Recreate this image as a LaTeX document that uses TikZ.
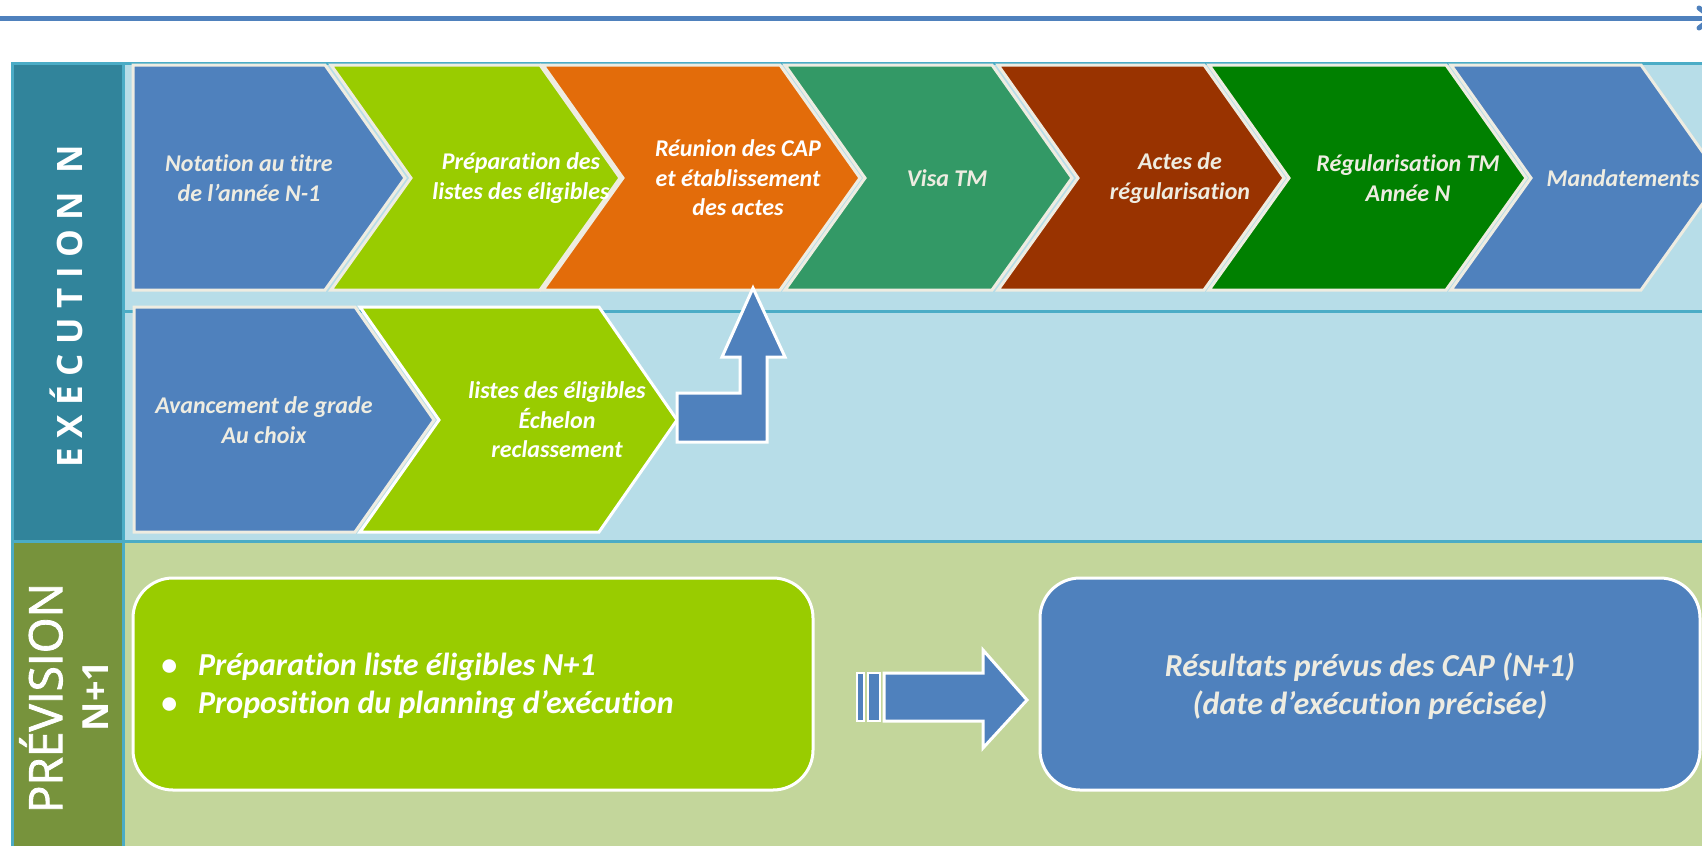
\documentclass[tikz,border=0pt]{standalone}
\usepackage{fontspec}
\setmainfont{Carlito}[Ligatures={NoCommon}]
\newfontfamily\sidefont{Open Sans}
\newfontfamily\prevfont{Open Sans}[FakeBold=1.8]
\newfontfamily\execfont{Open Sans}[LetterSpace=27]
\definecolor{cblue}{HTML}{4F81BD}
\definecolor{lgreen}{HTML}{99CC00}
\definecolor{corange}{HTML}{E36C0A}
\definecolor{tgreen}{HTML}{339966}
\definecolor{cbrown}{HTML}{993300}
\definecolor{cgreen}{HTML}{008000}
\definecolor{lblue}{HTML}{B7DDE8}
\definecolor{tealcol}{HTML}{31849B}
\definecolor{olivecol}{HTML}{77933C}
\definecolor{lolive}{HTML}{C3D69B}
\definecolor{bord}{HTML}{4BACC6}
\definecolor{outl}{HTML}{EEECE1}
\definecolor{txt}{HTML}{EEECE1}
\begin{document}
\begin{tikzpicture}[x=1pt,y=-1pt,
  chev/.style={draw=outl, line width=3pt, line join=miter},
  wchev/.style={draw=white, line width=3pt, line join=miter},
  lbl/.style={text=txt, font=\fontsize{24}{29.5}\selectfont\bfseries\itshape, align=center, inner sep=0pt},
  wlbl/.style={lbl, text=white},
  big/.style={font=\fontsize{32}{38}\selectfont\bfseries\itshape, inner sep=0pt},
  sep/.style={draw=bord, line width=3pt},
  arr/.style={fill=cblue, draw=white, line width=3pt, line join=miter},
  rbox/.style={draw=white, line width=3pt, rounded corners=40pt}
]
\useasboundingbox (0,0) rectangle (1702,846);
\fill[white] (0,0) rectangle (1702,846);
% top rule and decoration
\fill[cblue] (0,16) rectangle (1702,21);
\draw[cblue, line width=5pt, line cap=round] (1699,8) -- (1712,18) -- (1699,28);
% panel backgrounds
\fill[lblue] (12,63) rectangle (1702,541);
\fill[lolive] (12,541) rectangle (1702,846);
\fill[tealcol] (12,63) rectangle (123,541);
\fill[olivecol] (12,541) rectangle (123,846);
\draw[sep] (12.5,846) -- (12.5,63.5) -- (1702,63.5);
\draw[sep] (123.5,63) -- (123.5,846);
\draw[sep] (123,311) -- (1702,311);
\draw[sep] (12,541) -- (1702,541);
% row 1 chevrons
\filldraw[chev, fill=cblue] (133,65) -- (325,65) -- (405,178) -- (325,290) -- (133,290) -- cycle;
\foreach \l/\r/\c in {331/540/lgreen, 543/780/corange, 785/992/tgreen, 998/1204/cbrown, 1209/1446/cgreen, 1451/1641/cblue}{
  \filldraw[chev, fill=\c] (\l,65) -- (\r,65) -- ({\r+80},178) -- (\r,290) -- (\l,290) -- ({\l+80},178) -- cycle;
}
% row 2 chevrons
\filldraw[chev, fill=cblue] (134,307) -- (355,307) -- (434,420) -- (355,532) -- (134,532) -- cycle;
\filldraw[wchev, fill=lgreen] (360,307) -- (599,307) -- (677,420) -- (599,532) -- (360,532) -- (439,420) -- cycle;
% bent arrow
\filldraw[arr] (753,288) -- (785,357) -- (767,357) -- (767,442) -- (677,442) -- (677,393) -- (740,393) -- (740,357) -- (722,357) -- cycle;
% bottom boxes
\filldraw[rbox, fill=lgreen] (133,578) rectangle (813,790);
\filldraw[rbox, fill=cblue] (1040,578) rectangle (1700,790);
% striped arrow
\filldraw[arr, line width=2.5pt] (857,673) rectangle (864,721);
\filldraw[arr, line width=2.5pt] (868,673) rectangle (880,721);
\filldraw[arr] (884,673) -- (983,673) -- (983,650) -- (1027,700) -- (983,748) -- (983,721) -- (884,721) -- cycle;
% row 1 labels
\node[lbl] (t1) at (249,178) {Notation au titre\\de l’année N-1};
\node[wlbl] (t2) at (521,178) {Préparation des\\listes des éligibles};
\node[wlbl] (t3) at (738,178) {Réunion des CAP\\et établissement\\des actes};
\node[lbl] (t4) at (947,178) {Visa TM};
\node[lbl] (t5) at (1180,178) {Actes de\\régularisation};
\node[lbl] (t6) at (1408,178) {Régularisation TM\\Année N};
\node[lbl] (t7) at (1623,178) {Mandatements};
% row 2 labels
\node[lbl] (u1) at (264,420) {Avancement de grade\\Au choix};
\node[wlbl] (u2) at (557,420) {listes des éligibles\\Échelon\\reclassement};
% bottom texts
\node[big, text=white, anchor=west, align=left] (b1) at (161,686) {\makebox[37pt][l]{•}Préparation liste éligibles N+1\\\makebox[37pt][l]{•}Proposition du planning d’exécution};
\node[big, text=txt, align=center] (b2) at (1370,686) {Résultats prévus des CAP (N+1)\\(date d’exécution précisée)};
% side labels
\node[rotate=90, text=white, font=\execfont\bfseries\fontsize{35}{40}\selectfont, inner sep=0pt] (exec) at (66,306) {EXÉCUTION N};
\node[rotate=90, text=white, font=\prevfont\fontsize{46}{50}\selectfont, inner sep=0pt] (prev) at (41,698) {PRÉVISION};
\node[rotate=90, text=white, font=\sidefont\bfseries\fontsize{36}{40}\selectfont, inner sep=0pt] (np1) at (96,696) {N+1};
\end{tikzpicture}
\end{document}
